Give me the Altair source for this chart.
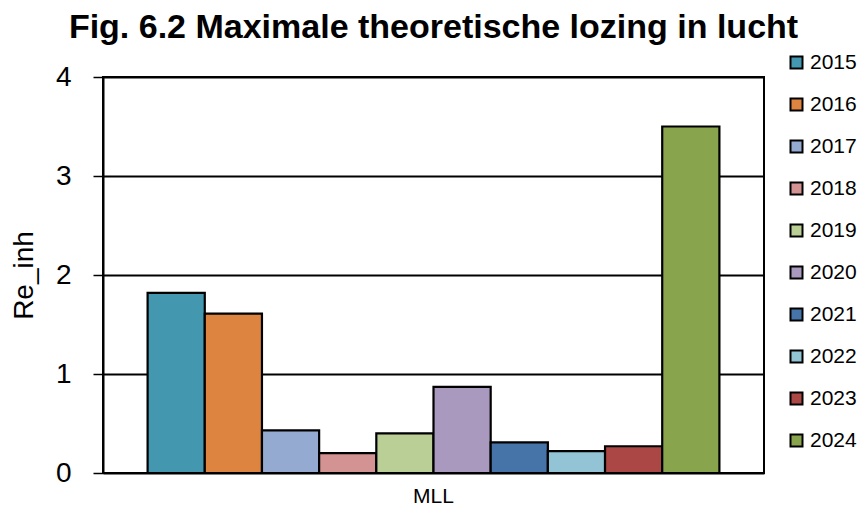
import altair as alt
import pandas as pd

categories = ["MLL"]
years = ["2015", "2016", "2017", "2018", "2019", "2020", "2021", "2022", "2023", "2024"]
values = [1.82, 1.61, 0.43, 0.20, 0.40, 0.87, 0.31, 0.22, 0.27, 3.50]
colors = ["#4398B0", "#DD8440", "#95AAD0", "#D39392", "#B9CF96",
          "#A999BF", "#4674A8", "#93C4D5", "#AB4744", "#88A44C"]
y_ticks = [0, 1, 2, 3, 4]

df = pd.DataFrame({"cat": categories * len(years), "year": years, "value": values})

FONT = "Liberation Sans"

chart = alt.Chart(df).mark_bar(stroke="black", strokeWidth=2.2).encode(
    x=alt.X("cat:N", title=None,
            scale=alt.Scale(paddingInner=0, paddingOuter=0.078),
            axis=alt.Axis(labelAngle=0, ticks=False, domain=False,
                          labelFontSize=21, labelPadding=12, labelColor="black",
                          labelFont=FONT)),
    xOffset=alt.XOffset("year:N", scale=alt.Scale(paddingInner=0, paddingOuter=0)),
    y=alt.Y("value:Q", title="Re_inh",
            scale=alt.Scale(domain=[0, 4], nice=False),
            axis=alt.Axis(values=y_ticks, format="d", tickSize=10, tickColor="black",
                          tickWidth=1.5, domain=True, domainColor="black", domainWidth=2,
                          grid=True, gridColor="black", gridWidth=2,
                          labelFontSize=28, labelPadding=22, labelColor="black",
                          labelFont=FONT, titleFont=FONT, titleFontSize=28,
                          titleFontWeight="normal", titleColor="black", titlePadding=17)),
    color=alt.Color("year:N", scale=alt.Scale(domain=years, range=colors),
                    legend=alt.Legend(title=None, orient="none", legendX=683, legendY=-25,
                                      symbolType="square", symbolSize=144,
                                      symbolStrokeColor="black", symbolStrokeWidth=2,
                                      labelFontSize=21, labelFont=FONT, labelColor="black",
                                      labelOffset=3, rowPadding=20)),
).properties(
    width=661, height=396,
    padding={"left": 2, "top": 3, "right": 0, "bottom": 0},
    title=alt.TitleParams("Fig. 6.2 Maximale theoretische lozing in lucht",
                          font=FONT, fontSize=34, fontWeight="bold", color="black",
                          anchor="middle", frame="group", offset=7),
).configure_view(stroke="black", strokeWidth=2)

chart.save("out.html", embed_options={"renderer": "svg", "actions": False})
